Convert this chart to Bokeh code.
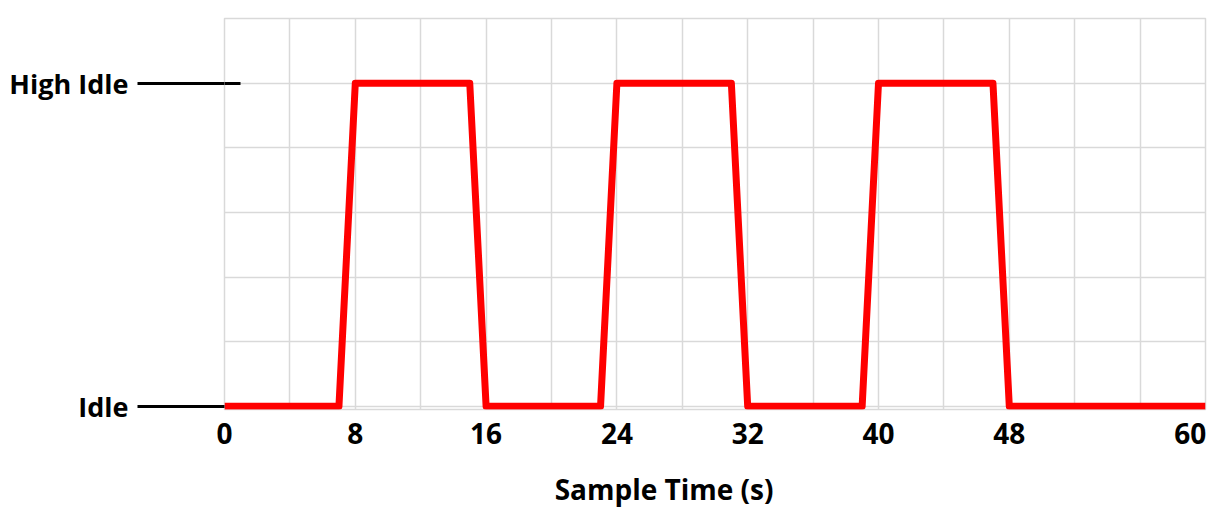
from bokeh.plotting import figure
from bokeh.models import Range1d, FixedTicker, LinearAxis
from bokeh.embed import file_html
from bokeh.resources import INLINE

# ---- data ----
time_s = [0, 7, 8, 15, 16, 23, 24, 31, 32, 39, 40, 47, 48, 60]
engine_level = [0, 0, 5, 5, 0, 0, 5, 5, 0, 0, 5, 5, 0, 0]
x_tick_values = [0, 8, 16, 24, 32, 40, 48, 60]
x_tick_labels = ["0", "8", "16", "24", "32", "40", "48", "60"]
y_tick_values = [0, 5]
y_tick_labels = ["Idle", "High Idle"]
x_label = "Sample Time (s)"

FONT = "Open Sans"
GRID = "#d9d9d9"
TICK_FS = "28px"
NBSP = "\u00a0"

p = figure(width=1213, height=510, output_backend="svg", toolbar_location=None,
           x_range=Range1d(0, 60), y_range=Range1d(-0.05, 6),
           min_border_left=224, min_border_right=8, min_border_top=18,
           min_border_bottom=101)
p.background_fill_color = "white"
p.border_fill_color = "white"
p.outline_line_color = GRID
p.outline_line_width = 1.5

# grid
p.xgrid.ticker = FixedTicker(ticks=list(range(0, 61, 4)))
p.ygrid.ticker = FixedTicker(ticks=list(range(0, 7)))
p.grid.grid_line_color = GRID
p.grid.grid_line_width = 1.5

# x axis; the last label is padded so that it sits inside the canvas
overrides = {v: s for v, s in zip(x_tick_values, x_tick_labels)}
overrides[x_tick_values[-1]] = x_tick_labels[-1] + NBSP
p.xaxis.ticker = FixedTicker(ticks=x_tick_values)
p.xaxis.major_label_overrides = overrides
p.xaxis.axis_line_color = None
p.xaxis.major_tick_line_color = None
p.xaxis.minor_tick_line_color = None
p.xaxis.major_tick_out = 0
p.xaxis.major_tick_in = 0
p.xaxis.major_label_standoff = 4
p.xaxis.major_label_text_font = FONT
p.xaxis.major_label_text_font_style = "bold"
p.xaxis.major_label_text_font_size = TICK_FS
p.xaxis.major_label_text_color = "black"
# axis title (padded on the right so that it sits left of the frame centre)
p.xaxis.axis_label = x_label + NBSP * 14
p.xaxis.axis_label_standoff = 15
p.xaxis.axis_label_text_font = FONT
p.xaxis.axis_label_text_font_style = "bold"
p.xaxis.axis_label_text_font_size = "28px"
p.xaxis.axis_label_text_color = "black"

# y axis: level names with long black tick lines
p.yaxis.ticker = FixedTicker(ticks=y_tick_values)
p.yaxis.major_label_overrides = {v: s for v, s in zip(y_tick_values, y_tick_labels)}
p.yaxis.axis_line_color = None
p.yaxis.minor_tick_line_color = None
p.yaxis.major_tick_out = 87
p.yaxis.major_tick_in = 0
p.yaxis.major_tick_line_width = 3
p.yaxis.major_tick_line_color = "black"
p.yaxis.major_tick_line_cap = "butt"
p.yaxis.major_label_standoff = 9
p.yaxis.major_label_text_font = FONT
p.yaxis.major_label_text_font_style = "bold"
p.yaxis.major_label_text_font_size = "27px"
p.yaxis.major_label_text_color = "black"

# inner extension of the "High Idle" tick line
inner = LinearAxis(fixed_location=0, ticker=FixedTicker(ticks=[y_tick_values[1]]),
                   major_tick_out=0, major_tick_in=16,
                   major_tick_line_width=3, major_tick_line_color="black",
                   major_tick_line_cap="butt", minor_tick_line_color=None,
                   axis_line_color=None, major_label_text_color=None)
p.add_layout(inner, "left")

# the red trace
p.line(time_s, engine_level, line_color="#ff0000", line_width=7, line_join="round")

open("out.html", "w").write(file_html(p, INLINE))
